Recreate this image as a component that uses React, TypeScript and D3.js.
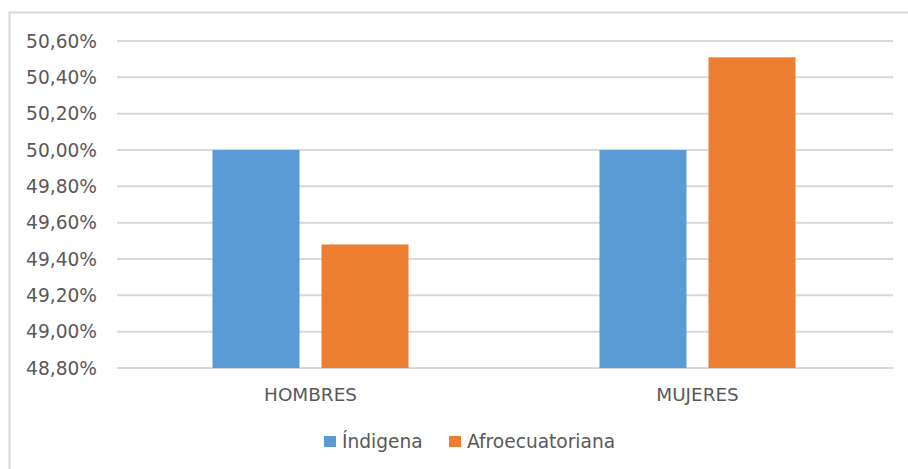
import React from "react";
import * as d3 from "d3";

const categories = ["HOMBRES", "MUJERES"];
const seriesNames = ["Índigena", "Afroecuatoriana"];
const seriesColors = ["#5B9BD5", "#ED7D31"];
const indigena = [50.0, 50.0];
const afro = [49.48, 50.51];
const yTicks = [48.8, 49.0, 49.2, 49.4, 49.6, 49.8, 50.0, 50.2, 50.4, 50.6];

const W = 908;
const H = 469;
const FONT = "'DejaVu Sans', sans-serif";
const TEXT = "#595959";

export default function App() {
  const values = [indigena, afro];
  const x = d3.scaleBand<string>().domain(categories).range([117, 891]).padding(0);
  const inner = d3
    .scaleBand<string>()
    .domain(seriesNames)
    .range([0, 196])
    .paddingInner(22 / 109)
    .paddingOuter(0);
  const y = d3.scaleLinear().domain([48.8, 50.6]).range([368, 41]);
  const fmt = (v: number) => v.toFixed(2).replace(".", ",") + "%";

  return (
    <svg
      width={W}
      height={H}
      style={{ position: "absolute", left: 0, top: 0, background: "#fff" }}
      fontFamily={FONT}
    >
      <rect x={0} y={0} width={W} height={H} fill="#fff" />
      <rect x={9.5} y={12.5} width={W + 20} height={H + 20} fill="none" stroke="#d9d9d9" strokeWidth={2} />
      {yTicks.map((t) => (
        <g key={t}>
          <line x1={117} x2={893} y1={y(t)} y2={y(t)} stroke="#d9d9d9" strokeWidth={2} />
          <text x={97} y={y(t)} dy="0.36em" textAnchor="end" fontSize={18.6} fill={TEXT}>
            {fmt(t)}
          </text>
        </g>
      ))}
      {categories.map((c, ci) => {
        const center = (x(c) as number) + x.bandwidth() / 2;
        const start = center - 98;
        return (
          <g key={c}>
            {seriesNames.map((s, si) => {
              const v = values[si][ci];
              return (
                <rect
                  key={s}
                  x={start + (inner(s) as number)}
                  width={inner.bandwidth()}
                  y={y(v)}
                  height={y(48.8) - y(v)}
                  fill={seriesColors[si]}
                />
              );
            })}
            <text x={center} y={401} textAnchor="middle" fontSize={18.4} fill={TEXT}>
              {c}
            </text>
          </g>
        );
      })}
      <g>
        <rect x={324} y={436} width={12} height={11} fill={seriesColors[0]} />
        <text x={342} y={448} fontSize={18.6} fill={TEXT}>
          {seriesNames[0]}
        </text>
        <rect x={449} y={436} width={12} height={11} fill={seriesColors[1]} />
        <text x={467} y={448} fontSize={18.6} fill={TEXT}>
          {seriesNames[1]}
        </text>
      </g>
    </svg>
  );
}
